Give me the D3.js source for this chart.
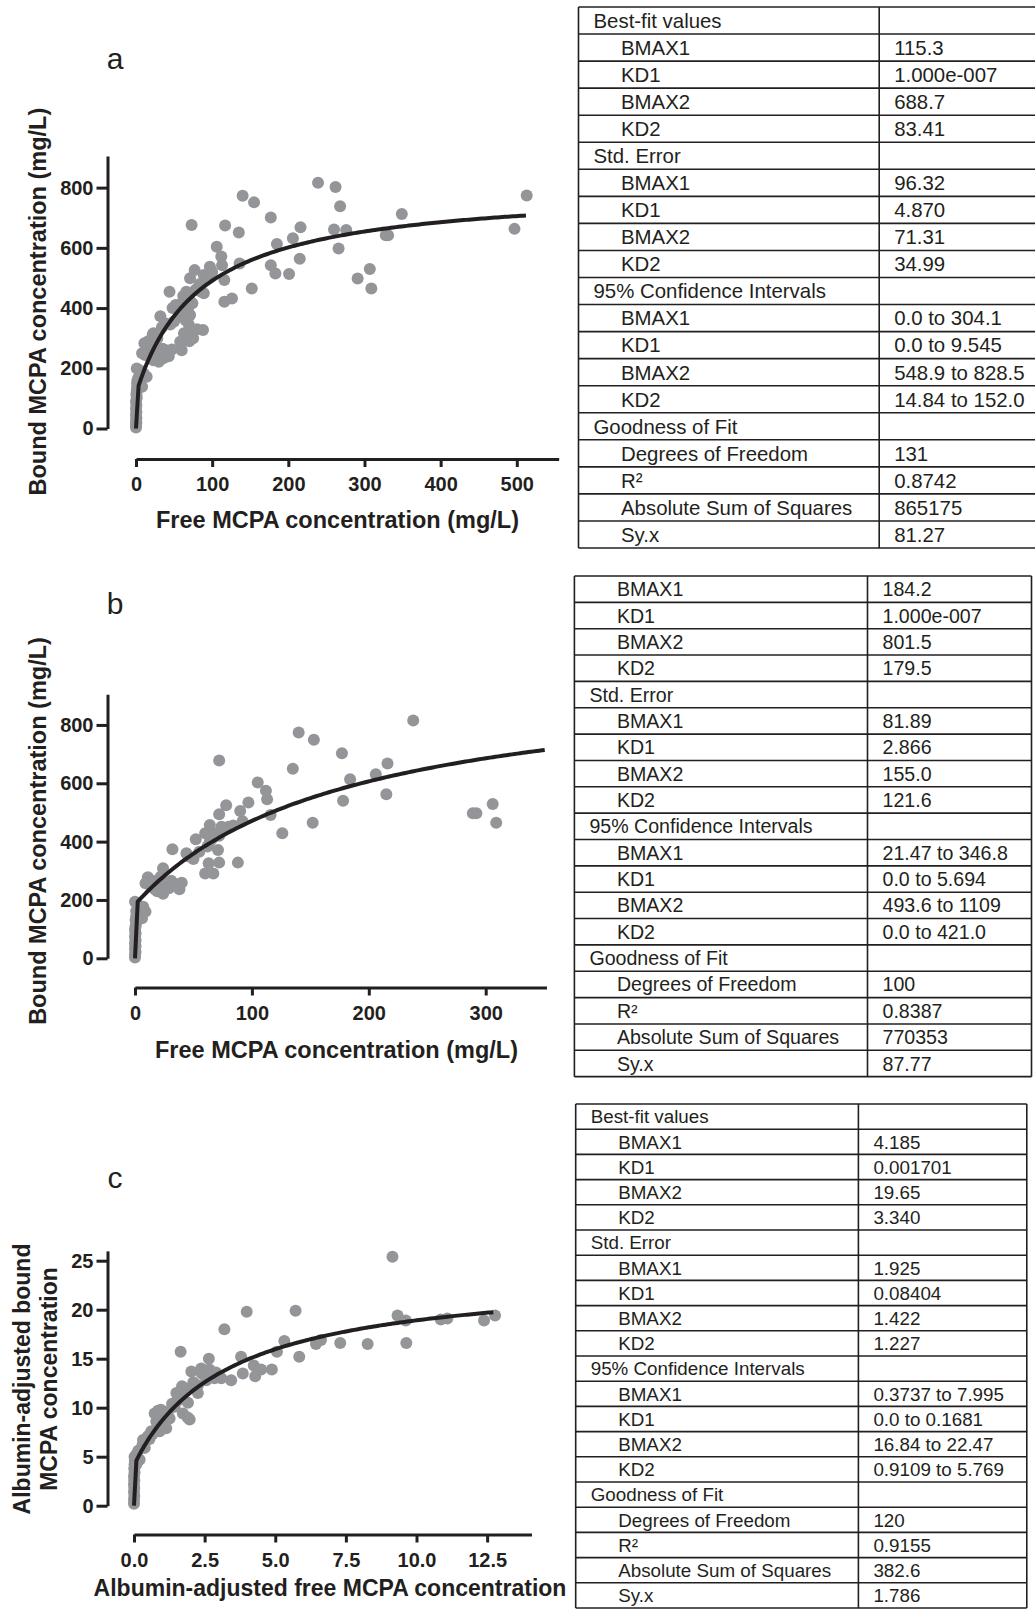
<!DOCTYPE html>
<html>
<head>
  <title>MCPA two-site binding</title>
  <meta charset="utf-8">
  <script src="https://cdn.jsdelivr.net/npm/d3@7"></script>
  <style>
    body { margin: 0; background: #fff; }
    svg text { font-family: "Liberation Sans", Arial, Helvetica, sans-serif; fill: #231f20; }
  </style>
</head>
<body>
  <svg id="fig" width="1035" height="1609"></svg>

  <script>
    "use strict";

    // ---- data: [free, bound] ----
    var pointsA = [
      [0,3],[0,10],[0.5,18],[0,26],[0.5,35],[0,45],[0.5,55],[0,66],[0.5,78],[0,90],[1,102],[0.5,114],[1,126],[1.5,138],[1.5,150],[2,160],[3,168],[6,192],[1,199],[10,183],[14,172],[8,139],[5,155],
      [11,283],[14,255],[18,267],[22,313],[23,316],[25,249],[32,249],[39,260],[42,255],[23,227],[30,222],[36,233],[12,244],[8,250],[16,290],[20,280],[26,272],[28,300],[35,265],[43,240],[47,262],
      [32,373],[34,336],[39,349],[45,345],[50,355],[57,372],[44,454],[48,400],[52,410],[55,395],[60,416],[62,440],[66,454],[70,430],[74,416],[78,460],[82,470],[85,455],[89,449],[71,377],[68,395],[60,382],[65,360],[69,347],[88,327],[63,316],[74,316],[75,300],[80,330],[58,288],[66,299],[60,260],[70,290],
      [77,526],[71,499],[84,480],[89,510],[95,500],[97,537],[100,520],[106,604],[112,571],[113,542],[116,493],[136,548],[116,421],[126,432],[152,465],[73,676],[117,674],[135,651],[140,773],[155,751],[177,701],[216,668],[206,632],[185,613],[215,564],[177,542],[183,515],[201,513],
      [239,816],[262,802],[268,738],[260,661],[276,659],[328,642],[331,642],[349,712],[266,598],[291,498],[307,530],[309,465],[513,774],[497,663]
    ];

    var pointsB = [
      [0,3],[0,12],[0.5,22],[0,32],[0.5,42],[0,52],[0.5,62],[0,74],[0.5,86],[0,98],[0.5,110],[1,122],[0.5,132],[1,143],[1.5,152],[1,162],[2,185],[4,170],[0,194],[7,177],[9,160],[6,137],
      [11,278],[9,257],[20,257],[14,246],[17,237],[24,221],[27,246],[31,266],[24,309],[38,237],[40,259],[19,230],[29,240],[35,255],[16,265],[22,280],
      [32,374],[44,360],[46,349],[50,340],[55,365],[60,291],[67,291],[63,326],[72,328],[88,328],[62,383],[71,371],[52,408],[64,400],[66,410],[72,420],[76,440],[60,429],[68,429],[64,457],[74,451],[80,451],[84,455],[92,470],
      [78,525],[72,494],[90,505],[97,534],[105,603],[112,574],[113,545],[116,491],[126,429],[152,465],[72,678],[135,650],[140,774],[153,749],[177,703],[216,668],[206,631],[184,614],[178,540],[215,562],[238,815],[306,529],[289,497],[292,497],[309,465]
    ];

    var pointsC = [
      [0,0.2],[0,0.6],[0.01,1.0],[0,1.4],[0.01,1.8],[0,2.2],[0.01,2.6],[0,3.0],[0.02,3.4],[0.01,3.8],[0.02,4.2],[0.03,4.6],[0.02,5.0],[0.08,5.2],[0.2,4.7],[0.08,4.2],[0.15,5.6],
      [0.38,5.9],[0.3,6.2],[0.4,6.5],[0.32,6.7],[0.55,6.8],[0.49,7.1],[0.65,7.3],[0.61,7.6],[0.91,7.6],[1.14,7.9],[1.0,8.2],[0.79,8.6],[1.1,8.6],[1.26,8.9],[0.73,9.4],[1.02,9.3],[0.85,9.7],[1.2,9.6],[0.95,9.8],[1.44,10.1],[1.35,10.4],[1.6,10.8],[1.73,9.4],[1.97,8.8],[1.9,9.0],[1.91,10.5],[1.55,11.2],[1.5,11.5],[2.26,11.5],[1.8,11.8],[2.0,12.0],[1.7,12.2],[2.26,12.3],[2.1,12.6],[2.56,12.8],[2.85,13.0],[3.09,13.0],[3.44,12.8],[2.4,13.5],[2.9,13.6],[2.03,13.7],[2.38,14.0],[2.67,13.9],[2.65,15.0],
      [3.79,15.2],[3.85,13.5],[4.24,14.3],[4.29,13.2],[4.5,13.9],[4.88,13.9],[1.65,15.7],[3.2,18.0],[3.99,19.8],[5.72,19.9],[5.32,16.8],[5.06,15.7],[5.85,15.2],[6.44,16.5],[6.62,16.9],[7.3,16.6],[8.27,16.5],[9.15,25.4],[9.33,19.4],[9.62,18.9],[9.64,16.6],[10.86,19.0],[11.09,19.1],[12.39,18.9],[12.78,19.4]
    ];

    // best-fit parameters [BMAX1, KD1, BMAX2, KD2] from the tables
    var fitA = [115.3, 1.000e-7, 688.7, 83.41];
    var fitB = [184.2, 1.000e-7, 801.5, 179.5];
    var fitC = [4.185, 0.001701, 19.65, 3.340];

    var ticksXA = [0, 100, 200, 300, 400, 500];
    var ticksXB = [0, 100, 200, 300];
    var ticksXC = [0, 2.5, 5, 7.5, 10, 12.5];
    var ticksYAB = [0, 200, 400, 600, 800];
    var ticksYC = [0, 5, 10, 15, 20, 25];

    // table rows
    var rowLabels = ["Best-fit values", "BMAX1", "KD1", "BMAX2", "KD2",
      "Std. Error", "BMAX1", "KD1", "BMAX2", "KD2",
      "95% Confidence Intervals", "BMAX1", "KD1", "BMAX2", "KD2",
      "Goodness of Fit", "Degrees of Freedom", "R\u00b2", "Absolute Sum of Squares", "Sy.x"];
    var headerLabels = ["Best-fit values", "Std. Error", "95% Confidence Intervals", "Goodness of Fit"];

    var valuesA = ["", "115.3", "1.000e-007", "688.7", "83.41",
      "", "96.32", "4.870", "71.31", "34.99",
      "", "0.0 to 304.1", "0.0 to 9.545", "548.9 to 828.5", "14.84 to 152.0",
      "", "131", "0.8742", "865175", "81.27"];
    var valuesB = ["", "184.2", "1.000e-007", "801.5", "179.5",
      "", "81.89", "2.866", "155.0", "121.6",
      "", "21.47 to 346.8", "0.0 to 5.694", "493.6 to 1109", "0.0 to 421.0",
      "", "100", "0.8387", "770353", "87.77"];
    var valuesC = ["", "4.185", "0.001701", "19.65", "3.340",
      "", "1.925", "0.08404", "1.422", "1.227",
      "", "0.3737 to 7.995", "0.0 to 0.1681", "16.84 to 22.47", "0.9109 to 5.769",
      "", "120", "0.9155", "382.6", "1.786"];

    var ink = "#231f20";
    var dotColor = "#939598";
    var svg = d3.select("#fig");

    function twoSite(x, p) {
      return p[0] * x / (p[1] + x) + p[2] * x / (p[3] + x);
    }

    function drawPanel(p) {
      var g = svg.append("g");
      var x = d3.scaleLinear().domain([0, p.xMax]).range([p.x0, p.x0 + p.xMax * p.xk]);
      var y = d3.scaleLinear().domain([0, p.yMax]).range([p.y0, p.y0 - p.yMax * p.yk]);

      var yAxis = g.append("g")
        .attr("transform", "translate(" + p.yAxisX + ",0)")
        .call(d3.axisLeft(y).tickValues(p.yTicks).tickSize(11).tickSizeOuter(0).tickPadding(3));
      var xAxis = g.append("g")
        .attr("transform", "translate(0," + p.xAxisY + ")")
        .call(d3.axisBottom(x).tickValues(p.xTicks).tickSize(8).tickSizeOuter(0).tickPadding(10)
          .tickFormat(p.xFormat));

      [yAxis, xAxis].forEach(function(a) {
        a.select(".domain").attr("stroke", ink).attr("stroke-width", 3);
        a.selectAll(".tick line").attr("stroke", ink).attr("stroke-width", 3);
        a.selectAll(".tick text")
          .style("font-size", "20px").style("font-weight", "bold").attr("fill", ink);
      });

      g.append("g").selectAll("circle")
        .data(p.points)
        .enter().append("circle")
        .attr("cx", function(d) { return x(d[0]); })
        .attr("cy", function(d) { return y(d[1]); })
        .attr("r", 6)
        .attr("fill", dotColor);

      var curve = d3.range(151).map(function(i) {
        var X = p.xEnd * i / 150;
        return [X, twoSite(X, p.fit)];
      });
      g.append("path")
        .datum(curve)
        .attr("fill", "none")
        .attr("stroke", ink)
        .attr("stroke-width", 4)
        .attr("stroke-linejoin", "round")
        .attr("d", d3.line().x(function(d) { return x(d[0]); }).y(function(d) { return y(d[1]); }));

      g.append("text")
        .attr("x", 115).attr("y", p.letterY)
        .attr("text-anchor", "middle")
        .style("font-size", "30px")
        .text(p.letter);

      g.append("text")
        .attr("x", p.xTitle[0]).attr("y", p.xTitle[1])
        .attr("text-anchor", "middle")
        .style("font-size", p.titleSize + "px").style("font-weight", "bold")
        .text(p.xLabel);

      p.yLabel.forEach(function(line, i) {
        g.append("text")
          .attr("transform", "translate(" + p.yTitleX[i] + "," + p.yTitleY + ") rotate(-90)")
          .attr("text-anchor", "middle")
          .attr("dy", "0.36em")
          .style("font-size", p.titleSize + "px").style("font-weight", "bold")
          .text(line);
      });
    }

    function drawTable(t) {
      var g = svg.append("g");
      var n = t.labels.length;
      var bottom = t.top + n * t.rowH;
      d3.range(n + 1).forEach(function(i) {
        g.append("line")
          .attr("x1", t.left).attr("x2", t.right)
          .attr("y1", t.top + i * t.rowH).attr("y2", t.top + i * t.rowH)
          .attr("stroke", ink).attr("stroke-width", 1.6);
      });
      [t.left, t.mid, t.right].forEach(function(xv) {
        g.append("line")
          .attr("x1", xv).attr("x2", xv)
          .attr("y1", t.top).attr("y2", bottom)
          .attr("stroke", ink).attr("stroke-width", 1.6);
      });
      t.labels.forEach(function(lab, i) {
        var base = t.top + (i + 0.5) * t.rowH + 0.36 * t.fs;
        var isHead = headerLabels.indexOf(lab) >= 0;
        g.append("text")
          .attr("x", isHead ? t.left + 15 : t.left + 42.5)
          .attr("y", base)
          .style("font-size", t.fs + "px")
          .text(lab);
        g.append("text")
          .attr("x", t.mid + 15)
          .attr("y", base)
          .style("font-size", t.fs + "px")
          .text(t.values[i]);
      });
    }

    drawPanel({
      points: pointsA, fit: fitA, xEnd: 512,
      x0: 136, xk: 0.7616, xMax: 555, y0: 428.5, yk: 0.3011, yMax: 905,
      xAxisY: 459, yAxisX: 107.5, xTicks: ticksXA, yTicks: ticksYAB, xFormat: d3.format("d"),
      letter: "a", letterY: 69,
      xLabel: "Free MCPA concentration (mg/L)", xTitle: [337.5, 528], titleSize: 23.5,
      yLabel: ["Bound MCPA concentration (mg/L)"], yTitleX: [38], yTitleY: 301.6
    });

    drawPanel({
      points: pointsB, fit: fitB, xEnd: 350.5,
      x0: 135, xk: 1.169, xMax: 352, y0: 958.3, yk: 0.2917, yMax: 905,
      xAxisY: 987.5, yAxisX: 107.5, xTicks: ticksXB, yTicks: ticksYAB, xFormat: d3.format("d"),
      letter: "b", letterY: 614,
      xLabel: "Free MCPA concentration (mg/L)", xTitle: [336.5, 1058], titleSize: 23.5,
      yLabel: ["Bound MCPA concentration (mg/L)"], yTitleX: [38], yTitleY: 831
    });

    drawPanel({
      points: pointsC, fit: fitC, xEnd: 12.72,
      x0: 134, xk: 28.25, xMax: 14.07, y0: 1505.7, yk: 9.8, yMax: 26,
      xAxisY: 1534.5, yAxisX: 107.5, xTicks: ticksXC, yTicks: ticksYC, xFormat: d3.format(".1f"),
      letter: "c", letterY: 1188,
      xLabel: "Albumin-adjusted free MCPA concentration", xTitle: [330, 1596], titleSize: 23,
      yLabel: ["Albumin-adjusted bound", "MCPA concentration"], yTitleX: [22, 49], yTitleY: 1379
    });

    drawTable({ labels: rowLabels, values: valuesA,
      left: 578.5, mid: 879.2, right: 1040, top: 7, rowH: 27.05, fs: 20.4 });
    drawTable({ labels: rowLabels.slice(1), values: valuesB.slice(1),
      left: 574.4, mid: 867.5, right: 1031.5, top: 576, rowH: 26.35, fs: 19.6 });
    drawTable({ labels: rowLabels, values: valuesC,
      left: 575.7, mid: 858.4, right: 1026.8, top: 1104, rowH: 25.2, fs: 18.8 });
  </script>
</body>
</html>
